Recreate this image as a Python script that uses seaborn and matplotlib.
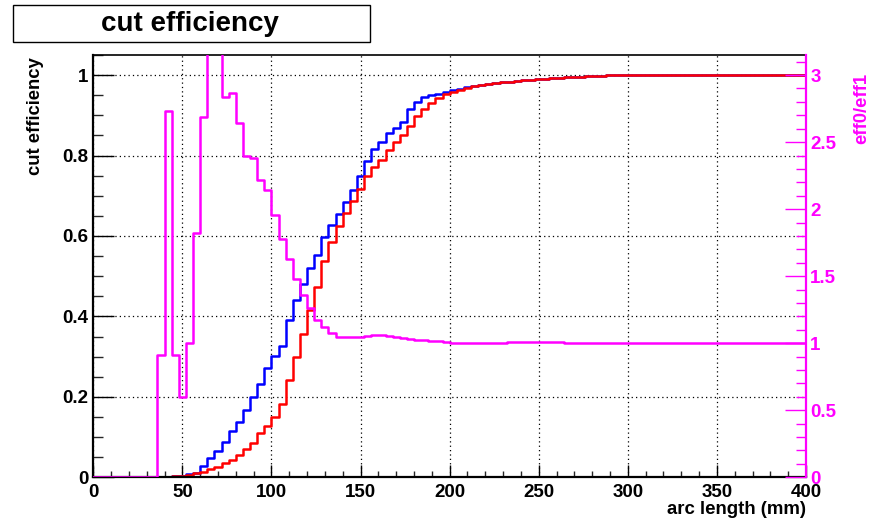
import numpy as np
import pandas as pd
import matplotlib
matplotlib.use("Agg")
import matplotlib.pyplot as plt
import seaborn as sns
from matplotlib.ticker import MultipleLocator, FuncFormatter
from matplotlib.patches import Rectangle

sns.set_theme(style="white")
plt.rcParams["font.family"] = ["Liberation Sans", "DejaVu Sans"]
plt.rcParams["font.weight"] = "bold"

# ---------------- data ----------------
title = "cut efficiency"
x_label = "arc length (mm)"
y_label = "cut efficiency"
y2_label = "eff0/eff1"
bin_width = 4
x_min, x_max = 0, 400

eff0 = [  # blue
    0, 0, 0, 0, 0, 0, 0, 0, 0, 0,
    0.001, 0.002, 0.004, 0.007, 0.010, 0.028, 0.047, 0.066, 0.087, 0.114,
    0.137, 0.168, 0.200, 0.232, 0.272, 0.301, 0.326, 0.392, 0.442, 0.480,
    0.521, 0.553, 0.598, 0.627, 0.654, 0.685, 0.714, 0.748, 0.787, 0.816,
    0.833, 0.855, 0.868, 0.883, 0.916, 0.934, 0.946, 0.950, 0.954, 0.958,
    0.962, 0.966, 0.970, 0.973, 0.976, 0.978, 0.980, 0.982, 0.984, 0.985,
    0.987, 0.988, 0.990, 0.991, 0.992, 0.993, 0.994, 0.995, 0.996, 0.997,
    0.998, 0.998, 0.999, 0.999, 1.0, 1.0, 1.0, 1.0, 1.0, 1.0,
    1.0, 1.0, 1.0, 1.0, 1.0, 1.0, 1.0, 1.0, 1.0, 1.0,
    1.0, 1.0, 1.0, 1.0, 1.0, 1.0, 1.0, 1.0, 1.0, 1.0,
]
eff1 = [  # red
    0, 0, 0, 0, 0, 0, 0, 0, 0, 0,
    0.001, 0.002, 0.003, 0.006, 0.010, 0.014, 0.020, 0.026, 0.035, 0.043,
    0.056, 0.070, 0.085, 0.110, 0.127, 0.150, 0.182, 0.241, 0.298, 0.357,
    0.416, 0.474, 0.538, 0.584, 0.625, 0.658, 0.686, 0.716, 0.750, 0.771,
    0.790, 0.813, 0.834, 0.851, 0.874, 0.899, 0.916, 0.930, 0.943, 0.952,
    0.958, 0.963, 0.968, 0.972, 0.975, 0.977, 0.980, 0.982, 0.984, 0.985,
    0.987, 0.988, 0.990, 0.991, 0.992, 0.993, 0.994, 0.995, 0.996, 0.997,
    0.998, 0.998, 0.999, 0.999, 1.0, 1.0, 1.0, 1.0, 1.0, 1.0,
    1.0, 1.0, 1.0, 1.0, 1.0, 1.0, 1.0, 1.0, 1.0, 1.0,
    1.0, 1.0, 1.0, 1.0, 1.0, 1.0, 1.0, 1.0, 1.0, 1.0,
]
ratio = [  # magenta, eff0/eff1
    0, 0, 0, 0, 0, 0, 0, 0, 0, 0.91,
    2.73, 0.91, 0.60, 1.00, 1.82, 2.69, 3.60, 3.40, 2.84, 2.87,
    2.64, 2.40, 2.38, 2.22, 2.14, 1.96, 1.78, 1.63, 1.48, 1.36,
    1.26, 1.17, 1.12, 1.08, 1.045, 1.044, 1.043, 1.045, 1.055, 1.065,
    1.062, 1.055, 1.048, 1.040, 1.032, 1.026, 1.022, 1.020, 1.015, 1.008,
    1.004, 1.003, 1.003, 1.002, 1.002, 1.002, 1.003, 1.004, 1.006, 1.007,
    1.007, 1.007, 1.006, 1.006, 1.006, 1.006, 1.005, 1.005, 1.005, 1.005,
    1.004, 1.004, 1.004, 1.004, 1.004, 1.004, 1.004, 1.004, 1.003, 1.003,
    1.003, 1.003, 1.003, 1.003, 1.003, 1.003, 1.003, 1.003, 1.002, 1.002,
    1.002, 1.002, 1.002, 1.002, 1.002, 1.002, 1.002, 1.002, 1.002, 1.002,
]

n_bins = len(eff0)
centers = x_min + bin_width * (np.arange(n_bins) + 0.5)
df = pd.DataFrame({"x": centers, "eff0": eff0, "eff1": eff1, "ratio": ratio})

BLUE, RED, MAG = "#0000ff", "#ff0000", "#ff00ff"
LW = 1.8
TICK_FS = 13.5

fig = plt.figure(figsize=(8.93, 5.21), dpi=100)
fig.patch.set_facecolor("white")
ax = fig.add_axes([0.10448, 0.08388, 0.7981, 0.8106])
ax2 = ax.twinx()

common = dict(x="x", bins=n_bins, binrange=(x_min, x_max), element="step",
              fill=False, linewidth=LW)
sns.histplot(data=df, weights="eff0", color=BLUE, ax=ax, **common)
sns.histplot(data=df, weights="eff1", color=RED, ax=ax, **common)
sns.histplot(data=df, weights="ratio", color=MAG, ax=ax2, **common)

ax.set_xlim(x_min, x_max)
ax.set_ylim(0, 1.05)
ax2.set_ylim(0, 3.15)
ax.set_xlabel("")
ax.set_ylabel("")
ax2.set_ylabel("")

fmt = FuncFormatter(lambda v, p: "%g" % round(v, 6))

ax.xaxis.set_major_locator(MultipleLocator(50))
ax.xaxis.set_minor_locator(MultipleLocator(10))
ax.yaxis.set_major_locator(MultipleLocator(0.2))
ax.yaxis.set_minor_locator(MultipleLocator(0.05))
ax.xaxis.set_major_formatter(fmt)
ax.yaxis.set_major_formatter(fmt)
ax2.yaxis.set_major_locator(MultipleLocator(0.5))
ax2.yaxis.set_minor_locator(MultipleLocator(0.1))
ax2.yaxis.set_major_formatter(fmt)

ax.grid(True, which="major", color="black", linestyle=(0, (1, 2.5)), linewidth=0.9)
ax2.grid(False)

ax.tick_params(axis="x", which="major", direction="in", length=9, width=1,
               bottom=True, top=False, labelsize=TICK_FS, pad=4.5, colors="black")
ax.tick_params(axis="x", which="minor", direction="in", length=4.5, width=1,
               bottom=True, top=False)
ax.tick_params(axis="y", which="major", direction="in", length=15, width=1,
               left=True, right=False, labelsize=TICK_FS, pad=3.6, colors="black")
ax.tick_params(axis="y", which="minor", direction="in", length=7.5, width=1,
               left=True, right=False)
ax2.tick_params(axis="y", which="major", direction="in", length=15, width=1,
                left=False, right=True, labelsize=TICK_FS, pad=3, colors=MAG)
ax2.tick_params(axis="y", which="minor", direction="in", length=7.5, width=1,
                left=False, right=True, colors=MAG)

for s in ax.spines.values():
    s.set_color("black")
    s.set_linewidth(1.2)
ax.spines["left"].set_linewidth(1.6)
ax.spines["bottom"].set_linewidth(1.6)
for name, s in ax2.spines.items():
    if name == "right":
        s.set_color(MAG)
        s.set_linewidth(1.6)
    else:
        s.set_visible(False)

W, H = 893.0, 521.0
fig.text(806 / W, 1 - 509 / H, x_label, ha="right", va="center",
         fontsize=13.4, fontweight="bold", color="black")
fig.text(35 / W, 1 - 57 / H, y_label, ha="center", va="top", rotation=90,
         fontsize=13.3, fontweight="bold", color="black")
fig.text(862 / W, 1 - 73 / H, y2_label, ha="center", va="top", rotation=90,
         fontsize=13.3, fontweight="bold", color=MAG)

fig.patches.append(Rectangle((13 / W, 1 - 42 / H), (370 - 13) / W, 37 / H,
                             transform=fig.transFigure, facecolor="white",
                             edgecolor="black", linewidth=1))
fig.text(190 / W, 1 - 24 / H, title, ha="center", va="center",
         fontsize=20, fontweight="bold", color="black")

fig.savefig("out.png", dpi=100, facecolor="white")
